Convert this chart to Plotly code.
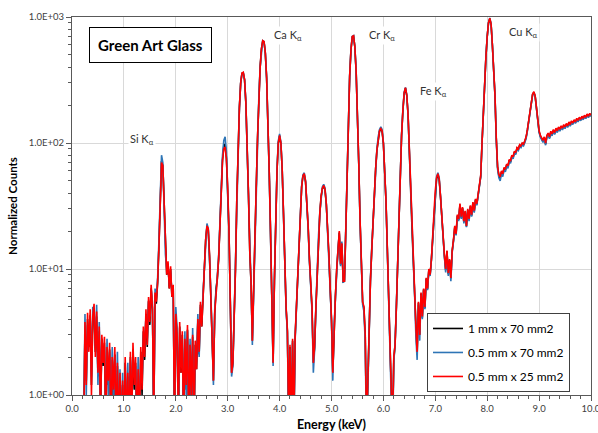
import plotly.graph_objects as go

# Energy channels: first channel energy and channel width (keV)
channel_start_kev = 0.225
channel_width_kev = 0.025

series_names = ["1 mm x 70 mm2", "0.5 mm x 70 mm2", "0.5 mm x 25 mm2"]
series_colors = ["#000000", "#2E75B6", "#FF0000"]

counts_1mm_70 = [
    0.5, 3.5, 1.3, 4.0, 2.4, 4.3, 1.2, 3.9,
    4.6, 2.2, 4.2, 1.4, 3.2, 0.7, 2.8, 1.7,
    2.6, 0.6, 2.2, 1.2, 2.3, 0.5, 1.9, 1.0,
    2.1, 0.5, 1.7, 0.5, 1.4, 0.5, 1.2, 0.5,
    1.8, 0.5, 1.4, 0.5, 2.0, 0.6, 2.3, 1.1,
    1.8, 0.5, 1.5, 0.5, 2.2, 1.0, 3.2, 1.9,
    4.4, 2.4, 5.6, 3.6, 7.0, 4.8, 0.6, 6.2,
    5.3, 7.8, 15, 41, 72, 66, 34, 13.5,
    9, 11, 7, 10, 6, 7.2, 0.5, 4.2,
    3.0, 0.6, 3.5, 1.5, 3.0, 0.5, 2.7, 1.1,
    3.3, 0.5, 2.5, 0.9, 2.9, 0.5, 2.5, 1.6,
    3.9, 2.1, 5.2, 3.5, 6, 10, 17, 21.5,
    20.5, 12.5, 6, 2.9, 1.3, 4.4, 7, 8.3,
    12, 22, 45, 74, 95, 98, 77, 45,
    19.5, 5.6, 1.5, 1.8, 4, 10, 35, 94,
    188, 298, 356, 360, 316, 206, 98, 39,
    13.8, 7.6, 2.7, 6, 15, 45, 110, 228,
    398, 556, 645, 635, 515, 326, 158, 59,
    19.5, 5.9, 1.8, 8, 25, 60, 100, 114,
    99, 61, 27.5, 10.8, 4.9, 3.2, 0.6, 2.4,
    0.5, 2.7, 0.6, 2.9, 5, 9, 17, 30,
    45, 55, 56, 49, 35.5, 21.5, 11.8, 6.4,
    4.8, 1.8, 2.4, 5, 10, 18, 27.5, 37.5,
    43.5, 45.5, 42.5, 32.5, 21.5, 12.8, 6.9, 3.9,
    1.5, 3.4, 6, 9.8, 13.8, 19.5, 10.8, 15.8,
    7.9, 8, 19.8, 59, 158, 336, 545, 695,
    705, 575, 366, 178, 69, 24.5, 9.8, 5.4,
    4.9, 2.9, 0.5, 1.5, 4, 8, 14, 24,
    40, 62, 87, 109, 124, 128, 123, 99,
    64, 34.5, 14.8, 6.9, 4.4, 2.2, 0.5, 1.9,
    2.5, 5, 12, 30, 64, 114, 178, 247,
    272, 238, 168, 94, 47, 21.5, 11.8, 6.9,
    3.4, 2.1, 5.4, 3.0, 6.4, 4.1, 6.9, 4.9,
    8.4, 6.9, 9.8, 8.9, 11.8, 16.8, 27.5, 41.5,
    52, 56, 51, 37.5, 24.5, 16.8, 12.8, 9.8,
    13.8, 9.1, 11.8, 8.4, 13.8, 16.8, 21.5, 18.8,
    26.5, 24.5, 32.5, 25.5, 30.5, 23.5, 28.5, 21.8,
    29.5, 24.5, 31.5, 26.5, 33.5, 28.5, 35.5, 32.5,
    39.5, 44.5, 54, 99, 178, 297, 475, 695,
    892, 970, 872, 595, 396, 237, 108, 64,
    55, 53, 59, 56, 63, 61, 67, 65,
    73, 71, 79, 77, 85, 83, 91, 89,
    96, 94, 99, 97, 103, 111, 127, 150,
    183, 218, 242, 252, 233, 188, 148, 123,
    113, 108, 103, 110, 98, 113, 118, 110,
    122, 116, 126, 119, 129, 123, 132, 126,
    135, 129, 138, 132, 141, 135, 145, 138,
    148, 142, 151, 145, 155, 149, 158, 152,
    161, 155, 164, 158, 168, 161, 170, 164,
]

counts_05mm_70 = [
    0.5, 4.4, 1.0, 3.6, 2.6, 4.2, 1.4, 5.0,
    4.8, 2.4, 5.2, 1.2, 3.8, 0.8, 2.6, 2.0,
    2.4, 0.7, 2.8, 1.0, 2.2, 0.6, 2.4, 0.9,
    2.0, 0.6, 2.2, 0.5, 1.6, 0.5, 1.5, 0.6,
    1.6, 0.6, 1.8, 0.5, 1.9, 0.8, 2.2, 1.5,
    1.7, 0.6, 2.0, 0.5, 2.0, 1.3, 3.0, 2.4,
    4.2, 2.8, 5.5, 4.2, 7.0, 5.5, 0.5, 7.0,
    6.0, 8.5, 17, 45, 80, 70, 36, 13,
    10, 10.5, 7.5, 9.5, 6.5, 7.0, 0.6, 5.0,
    3.4, 0.5, 3.4, 1.8, 2.8, 0.6, 3.2, 1.0,
    3.2, 0.6, 2.8, 0.8, 3.4, 0.6, 2.4, 1.9,
    4.4, 2.0, 5.0, 3.9, 6.5, 10.5, 18, 23,
    21, 13, 6.5, 2.8, 1.2, 4.8, 7.2, 8.8,
    12.5, 23, 48, 80, 105, 112, 85, 47,
    20, 5.5, 1.4, 1.7, 4.2, 10.5, 36, 96,
    190, 300, 358, 362, 318, 208, 98, 39,
    14, 7.5, 2.5, 6.2, 15, 46, 112, 232,
    402, 562, 648, 638, 518, 328, 158, 59,
    19, 5.8, 1.7, 8.2, 26, 62, 104, 118,
    101, 61, 27, 10.5, 4.8, 3.1, 0.5, 2.3,
    0.5, 2.6, 0.5, 2.8, 5.2, 9.2, 17.5, 31,
    46, 56, 58, 50, 35, 21, 11.5, 6.2,
    4.6, 1.5, 2.3, 5.2, 10.5, 18.5, 28, 39,
    45, 47, 44, 33, 21, 12.5, 6.8, 3.8,
    1.3, 3.6, 6.2, 10, 14.5, 19, 10.5, 16.5,
    7.8, 8.2, 20, 61, 162, 342, 552, 702,
    712, 578, 368, 178, 69, 24, 9.5, 5.2,
    4.6, 2.6, 0.4, 1.3, 4.2, 8.3, 14.5, 24.5,
    41, 63, 90, 112, 128, 134, 128, 101,
    64, 34, 14.5, 6.8, 4.2, 2.0, 0.4, 1.8,
    2.6, 5.1, 12.5, 31, 66, 116, 182, 252,
    276, 240, 168, 93, 47, 21, 11.5, 6.6,
    3.0, 1.9, 5.2, 2.7, 6.2, 4.0, 6.8, 4.8,
    8.2, 6.8, 9.6, 8.8, 12, 17.5, 29, 43,
    54, 58, 53, 38, 24, 16, 12.5, 9.4,
    13.5, 8.8, 11.5, 8.0, 13.5, 16.5, 21, 18.5,
    26, 24, 32, 25, 30, 23, 28, 21.5,
    29, 24, 31, 26, 33, 28, 35, 32,
    39, 44, 54, 99, 178, 298, 478, 698,
    898, 985, 875, 595, 395, 235, 106, 62,
    53, 50, 57, 54, 61, 59, 65, 63,
    71, 69, 77, 75, 83, 81, 89, 87,
    94, 92, 97, 95, 101, 109, 125, 150,
    183, 218, 243, 253, 232, 187, 147, 121,
    111, 106, 101, 108, 96, 111, 116, 108,
    120, 114, 124, 117, 127, 121, 130, 124,
    133, 127, 136, 130, 139, 133, 143, 136,
    146, 140, 149, 143, 153, 147, 156, 150,
    159, 153, 162, 156, 166, 159, 168, 162,
]

counts_05mm_25 = [
    0.5, 3.8, 1.2, 4.5, 2.2, 4.8, 1.0, 4.2,
    5.3, 2.0, 4.6, 1.5, 3.5, 0.6, 3.0, 1.8,
    2.9, 0.5, 2.4, 1.3, 2.6, 0.5, 2.0, 1.1,
    2.4, 0.5, 1.8, 0.5, 1.5, 0.5, 1.3, 0.5,
    2.0, 0.5, 1.5, 0.5, 2.2, 0.6, 2.6, 1.2,
    2.0, 0.5, 1.6, 0.5, 2.4, 1.1, 3.5, 2.0,
    4.8, 2.5, 6.0, 3.8, 7.5, 5.0, 0.6, 6.5,
    5.5, 8, 15, 40, 70, 66, 35, 14,
    9, 11.5, 7.0, 10.5, 6.0, 7.5, 0.5, 4.4,
    3.0, 0.6, 3.8, 1.5, 3.2, 0.5, 2.8, 1.2,
    3.6, 0.5, 2.5, 1.0, 3.0, 0.5, 2.7, 1.6,
    4.0, 2.2, 5.5, 3.5, 6, 10, 17, 22,
    21, 13, 6, 3, 1.3, 4.5, 7, 8.5,
    12, 22, 45, 72, 90, 93, 75, 45,
    20, 5.7, 1.5, 1.8, 4, 10, 35, 95,
    190, 300, 360, 365, 320, 210, 100, 40,
    14, 7.7, 2.7, 6, 15, 45, 110, 230,
    400, 560, 650, 640, 520, 330, 160, 60,
    20, 6, 1.8, 8, 25, 60, 100, 115,
    100, 62, 28, 11, 5, 3.3, 0.6, 2.5,
    0.5, 2.8, 0.6, 3.0, 5, 9, 17, 30,
    45, 55, 57, 50, 36, 22, 12, 6.5,
    5, 1.8, 2.5, 5, 10, 18, 28, 38,
    44, 46, 43, 33, 22, 13, 7, 4,
    1.5, 3.5, 6, 10, 14, 20, 11, 16,
    8, 8, 20, 60, 160, 340, 550, 700,
    710, 580, 370, 180, 70, 25, 10, 5.5,
    5.0, 3, 0.5, 1.5, 4, 8, 14, 24,
    40, 62, 88, 110, 125, 130, 125, 100,
    65, 35, 15, 7, 4.5, 2.2, 0.5, 2.0,
    2.5, 5, 12, 30, 65, 115, 180, 250,
    275, 240, 170, 95, 48, 22, 12, 7,
    3.5, 2.2, 5.5, 3.0, 6.5, 4.2, 7.0, 5.0,
    8.5, 7.0, 10, 9, 12, 17, 28, 42,
    53, 57, 52, 38, 25, 17, 13, 10,
    14, 9.3, 12, 8.5, 14, 17, 22, 19,
    27, 25, 33, 26, 31, 24, 29, 22,
    30, 25, 32, 27, 34, 29, 36, 33,
    40, 45, 55, 100, 180, 300, 480, 700,
    900, 980, 880, 600, 400, 240, 110, 65,
    56, 54, 60, 57, 64, 62, 68, 66,
    74, 72, 80, 78, 86, 84, 92, 90,
    97, 95, 100, 98, 104, 112, 128, 152,
    185, 220, 245, 255, 235, 190, 150, 125,
    115, 110, 105, 112, 100, 115, 120, 112,
    124, 118, 128, 121, 131, 125, 134, 128,
    137, 131, 140, 134, 143, 137, 147, 140,
    150, 144, 153, 147, 157, 151, 160, 154,
    163, 157, 166, 160, 170, 163, 172, 166,
]

peak_labels = ["Si K<sub>α</sub>", "Ca K<sub>α</sub>", "Cr K<sub>α</sub>", "Fe K<sub>α</sub>", "Cu K<sub>α</sub>"]
y_tick_values = [1, 10, 100, 1000]
y_tick_labels = ["1.0E+00", "1.0E+01", "1.0E+02", "1.0E+03"]

all_series = [counts_1mm_70, counts_05mm_70, counts_05mm_25]

fig = go.Figure()
for name, color, counts in zip(series_names, series_colors, all_series):
    energy = [round(channel_start_kev + channel_width_kev * i, 3) for i in range(len(counts))]
    fig.add_trace(go.Scatter(
        x=energy, y=counts, mode="lines", name=name, legendgroup=name,
        line=dict(color=color, width=1.6),
    ))

axis_line = "#595959"
grid = "#d9d9d9"
tick_font = dict(family="Lato", size=9.5, color="#404040")

fig.update_layout(
    width=598, height=433,
    margin=dict(l=72, r=7, t=17, b=38, autoexpand=False),
    paper_bgcolor="white", plot_bgcolor="white",
    font=dict(family="Lato", color="#404040"),
    legend=dict(
        x=0.684, y=0.217, xanchor="left", yanchor="top",
        bgcolor="white", bordercolor="#404040", borderwidth=1,
        font=dict(family="Lato", size=12, color="#000000"),
        tracegroupgap=5, itemwidth=30,
    ),
    xaxis=dict(
        range=[0, 10], tick0=0, dtick=1, tickformat=".1f",
        ticks="outside", ticklen=5, tickcolor=axis_line,
        showline=True, linecolor=axis_line, linewidth=1, mirror=True,
        showgrid=True, gridcolor=grid, zeroline=False, automargin=False,
        tickfont=tick_font, ticklabeloverflow="allow",
        minor=dict(dtick=0.2, ticks="outside", ticklen=3, tickcolor=axis_line, showgrid=False),
        title=dict(text="<b>Energy (keV)</b>", font=dict(family="Lato", size=12.5, color="#000000"), standoff=6),
    ),
    yaxis=dict(
        type="log", range=[0, 3],
        tickmode="array", tickvals=y_tick_values, ticktext=y_tick_labels,
        ticks="outside", ticklen=5, tickcolor=axis_line,
        showline=True, linecolor=axis_line, linewidth=1, mirror=True,
        showgrid=True, gridcolor=grid, zeroline=False, automargin=False,
        tickfont=tick_font,
        minor=dict(dtick="D1", ticks="outside", ticklen=3, tickcolor=axis_line, showgrid=False),
        title=dict(text="<b>Normalized Counts</b>", font=dict(family="Lato", size=11.5, color="#000000"), standoff=8),
    ),
)

# Title box
fig.add_annotation(
    xref="paper", yref="paper", x=0.151, y=0.926, xanchor="center", yanchor="middle",
    text="<b>Green Art Glass</b>", showarrow=False,
    font=dict(family="Lato", size=15, color="#000000"),
    bgcolor="white", bordercolor="#000000", borderwidth=1, borderpad=8,
)

label_pos = [(0.135, 0.677), (0.416, 0.952), (0.597, 0.952), (0.697, 0.804), (0.869, 0.960)]
for text, (px, py) in zip(peak_labels, label_pos):
    fig.add_annotation(
        xref="paper", yref="paper", x=px, y=py, xanchor="center", yanchor="middle",
        text=text, showarrow=False,
        font=dict(family="Lato", size=11, color="#333333"), bgcolor="white", borderpad=1,
    )

fig.write_html("out.html")
